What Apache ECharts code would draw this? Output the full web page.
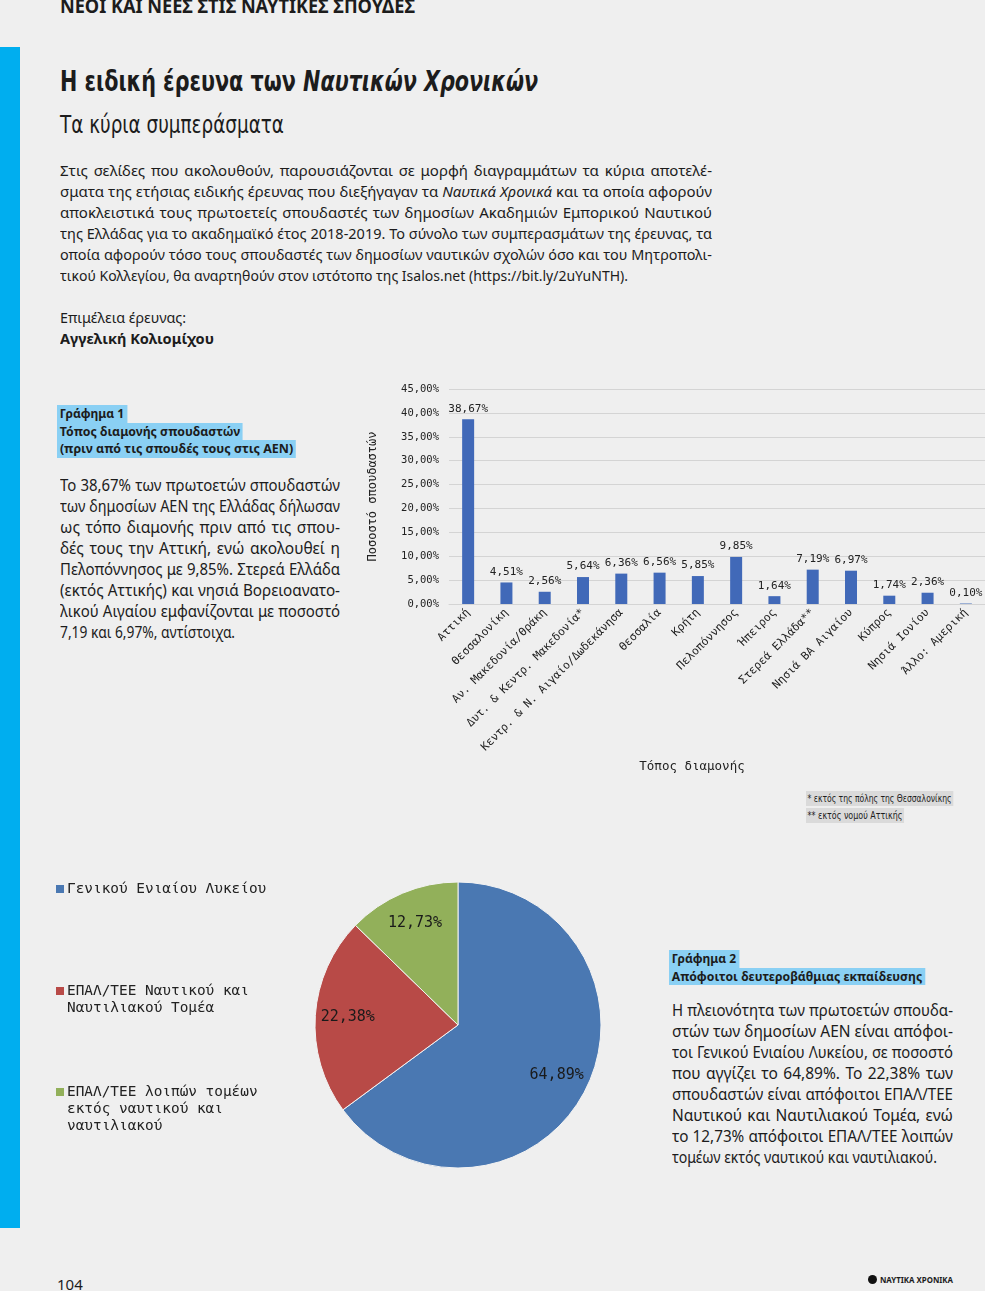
<!DOCTYPE html>
<html><head><meta charset="utf-8">
<script src="https://cdn.jsdelivr.net/npm/echarts@6/dist/echarts.min.js"></script>
<style>
html,body{margin:0;padding:0;background:#efefef;}
#page{position:relative;width:985px;height:1291px;overflow:hidden;background:#efefef;font-family:"Noto Sans",sans-serif;color:#1c1c1c;}
.abs{position:absolute;white-space:nowrap;}
.cond{font-family:"DejaVu Sans Condensed","DejaVu Sans",sans-serif;font-stretch:condensed;}
.para{position:absolute;font-size:15px;line-height:21px;}
.para div{height:21px;}
.hl{position:absolute;font-size:13px;font-weight:700;}
.hl div{height:17.5px;line-height:17.5px;margin-left:-3px;}
.hl span{display:inline-block;background:#8ad0f4;padding:0 3px 0 3px;}
#chart{position:absolute;left:0;top:0;width:985px;height:1291px;}
.fn{position:absolute;font-size:11px;line-height:15px;background:#dadada;padding:0 2px;white-space:nowrap;}
</style></head>
<body><div id="page">
<div style="position:absolute;left:0;top:47px;width:20px;height:1181px;background:#00aeef;"></div>

<div class="abs fit" data-w="355" style="left:60px;top:-3px;font-size:19px;line-height:19px;font-weight:700;">ΝΕΟΙ ΚΑΙ ΝΕΕΣ ΣΤΙΣ ΝΑΥΤΙΚΕΣ ΣΠΟΥΔΕΣ</div>
<div class="abs fit cond" data-w="478" style="left:60px;top:68px;font-size:28px;line-height:28px;font-weight:700;">Η ειδική έρευνα των <i>Ναυτικών Χρονικών</i></div>
<div class="abs fit cond" data-w="224" style="left:60px;top:112px;font-size:25px;line-height:25px;">Τα κύρια συμπεράσματα</div>

<div class="para" style="left:60px;top:160px;">
<div class="fit" data-w="652" data-j="1">Στις σελίδες που ακολουθούν, παρουσιάζονται σε μορφή διαγραμμάτων τα κύρια αποτελέ-</div>
<div class="fit" data-w="652" data-j="1">σματα της ετήσιας ειδικής έρευνας που διεξήγαγαν τα <i>Ναυτικά Χρονικά</i> και τα οποία αφορούν</div>
<div class="fit" data-w="652" data-j="1">αποκλειστικά τους πρωτοετείς σπουδαστές των δημοσίων Ακαδημιών Εμπορικού Ναυτικού</div>
<div class="fit" data-w="652" data-j="1">της Ελλάδας για το ακαδημαϊκό έτος 2018-2019. Το σύνολο των συμπερασμάτων της έρευνας, τα</div>
<div class="fit" data-w="652" data-j="1">οποία αφορούν τόσο τους σπουδαστές των δημοσίων ναυτικών σχολών όσο και του Μητροπολι-</div>
<div class="fit" data-w="568">τικού Κολλεγίου, θα αναρτηθούν στον ιστότοπο της Isalos.net (https://bit.ly/2uYuNTH).</div>
</div>
<div class="abs fit" data-w="126" style="left:60px;top:307px;font-size:15px;line-height:21px;">Επιμέλεια έρευνας:</div>
<div class="abs fit" data-w="154" style="left:60px;top:328px;font-size:15px;line-height:21px;font-weight:700;">Αγγελική Κολιομίχου</div>

<div class="hl" style="left:60px;top:405px;">
<div><span class="fit" data-w="70">Γράφημα 1</span></div>
<div><span class="fit" data-w="186">Τόπος διαμονής σπουδαστών</span></div>
<div><span class="fit" data-w="239">(πριν από τις σπουδές τους στις ΑΕΝ)</span></div>
</div>
<div class="para" style="left:60px;top:475px;font-size:15.5px;">
<div class="fit" data-w="280" data-j="1">Το 38,67% των πρωτοετών σπουδαστών</div>
<div class="fit" data-w="280" data-j="1">των δημοσίων ΑΕΝ της Ελλάδας δήλωσαν</div>
<div class="fit" data-w="280" data-j="1">ως τόπο διαμονής πριν από τις σπου-</div>
<div class="fit" data-w="280" data-j="1">δές τους την Αττική, ενώ ακολουθεί η</div>
<div class="fit" data-w="280" data-j="1">Πελοπόννησος με 9,85%. Στερεά Ελλάδα</div>
<div class="fit" data-w="280" data-j="1">(εκτός Αττικής) και νησιά Βορειοανατο-</div>
<div class="fit" data-w="280" data-j="1">λικού Αιγαίου εμφανίζονται με ποσοστό</div>
<div class="fit" data-w="175">7,19 και 6,97%, αντίστοιχα.</div>
</div>

<div class="fn cond fit" data-w="147" style="left:806px;top:791px;">* εκτός της πόλης της Θεσσαλονίκης</div>
<div class="fn cond fit" data-w="98" style="left:806px;top:808px;">** εκτός νομού Αττικής</div>

<div class="hl" style="left:672px;top:950px;">
<div><span class="fit" data-w="70">Γράφημα 2</span></div>
<div><span class="fit" data-w="256">Απόφοιτοι δευτεροβάθμιας εκπαίδευσης</span></div>
</div>
<div class="para" style="left:672px;top:1000px;font-size:15.5px;">
<div class="fit" data-w="281" data-j="1">Η πλειονότητα των πρωτοετών σπουδα-</div>
<div class="fit" data-w="281" data-j="1">στών των δημοσίων ΑΕΝ είναι απόφοι-</div>
<div class="fit" data-w="281" data-j="1">τοι Γενικού Ενιαίου Λυκείου, σε ποσοστό</div>
<div class="fit" data-w="281" data-j="1">που αγγίζει το 64,89%. Το 22,38% των</div>
<div class="fit" data-w="281" data-j="1">σπουδαστών είναι απόφοιτοι ΕΠΑΛ/ΤΕΕ</div>
<div class="fit" data-w="281" data-j="1">Ναυτικού και Ναυτιλιακού Τομέα, ενώ</div>
<div class="fit" data-w="281" data-j="1">το 12,73% απόφοιτοι ΕΠΑΛ/ΤΕΕ λοιπών</div>
<div class="fit" data-w="265">τομέων εκτός ναυτικού και ναυτιλιακού.</div>
</div>

<div class="abs" style="left:57px;top:1277px;font-size:15px;line-height:15px;">104</div>
<div style="position:absolute;left:868px;top:1275px;width:9px;height:9px;border-radius:50%;background:#111;"></div>
<div class="abs fit" data-w="73" style="left:880px;top:1274px;font-size:8px;line-height:11px;font-weight:700;">ΝΑΥΤΙΚΑ ΧΡΟΝΙΚΑ</div>

<div id="chart"></div>
</div>
<script>
// ---- data ----
const regions = ['Αττική','Θεσσαλονίκη','Αν. Μακεδονία/Θράκη','Δυτ. & Κεντρ. Μακεδονία*','Κεντρ. & Ν. Αιγαίο/Δωδεκάνησα','Θεσσαλία','Κρήτη','Πελοπόννησος','Ήπειρος','Στερεά Ελλάδα**','Νησιά ΒΑ Αιγαίου','Κύπρος','Νησιά Ιονίου','Άλλο: Αμερική'];
const residencePct = [38.67,4.51,2.56,5.64,6.36,6.56,5.85,9.85,1.64,7.19,6.97,1.74,2.36,0.10];
const yMax = 45;
const yStep = 5;
const barAxisTitleY = 'Ποσοστό σπουδαστών';
const barAxisTitleX = 'Τόπος διαμονής';
const schoolTypes = ['Γενικού Ενιαίου Λυκείου','ΕΠΑΛ/ΤΕΕ Ναυτικού και Ναυτιλιακού Τομέα','ΕΠΑΛ/ΤΕΕ λοιπών τομέων εκτός ναυτικού και ναυτιλιακού'];
const schoolLegendLines = [['Γενικού Ενιαίου Λυκείου'],['ΕΠΑΛ/ΤΕΕ Ναυτικού και','Ναυτιλιακού Τομέα'],['ΕΠΑΛ/ΤΕΕ λοιπών τομέων','εκτός ναυτικού και','ναυτιλιακού']];
const schoolPct = [64.89,22.38,12.73];
const pieColors = ['#4a78b2','#b84a47','#92b05a'];

// ---- fit text lines ----
document.querySelectorAll('.fit').forEach(el=>{
  const w = +el.dataset.w, j = el.dataset.j === '1';
  el.style.display='inline-block'; el.style.whiteSpace='nowrap'; el.style.width='auto';
  const nat = el.getBoundingClientRect().width;
  el.style.transformOrigin='0 0';
  if (j) {
    el.style.display='block';
    el.style.whiteSpace='normal';
    el.style.textAlign='justify'; el.style.textAlignLast='justify';
    if (nat > w) { el.style.width=(nat+1)+'px'; el.style.transform='scaleX('+(w/(nat+1))+')'; }
    else el.style.width=w+'px';
  } else {
    el.style.transform='scaleX('+(w/nat)+')';
  }
});

const fmt = v => v.toFixed(2).replace('.', ',') + '%';
const mono = '"DejaVu Sans Mono", monospace';
const chart = echarts.init(document.getElementById('chart'));
const legendTops = [889, 991, 1092];
const graphics = [
  {type:'text', x:692, y:767, style:{text:barAxisTitleX, font:'12.5px '+mono, fill:'#222', align:'center', verticalAlign:'middle'}},
];
schoolLegendLines.forEach((lines,i)=>{
  graphics.push({type:'rect', shape:{x:56, y:legendTops[i]-4, width:8, height:8}, style:{fill:pieColors[i]}});
  graphics.push({type:'text', x:67, y:legendTops[i]-8.5, style:{text:lines.join('\n'), font:'14.4px '+mono, lineHeight:17, fill:'#222'}});
});
chart.setOption({
  animation:false,
  graphic: graphics,
  grid:{left:449, top:389, width:536, height:215, containLabel:false},
  xAxis:{type:'category', data:regions,
    axisLine:{show:true, lineStyle:{color:'#d4d4d4'}}, axisTick:{show:false},
    axisLabel:{interval:0, rotate:45, margin:7, fontFamily:mono, fontSize:11.2, color:'#222'}},
  yAxis:{type:'value', min:0, max:yMax, interval:yStep,
    name:barAxisTitleY, nameLocation:'middle', nameGap:70,
    nameTextStyle:{fontFamily:mono, fontSize:12, color:'#222'},
    axisLabel:{formatter:v=>fmt(v), fontFamily:mono, fontSize:10.5, color:'#222', margin:10},
    axisLine:{show:false}, axisTick:{show:false},
    splitLine:{lineStyle:{color:'#d4d4d4'}}},
  series:[
    {type:'bar', data:residencePct, barWidth:12, itemStyle:{color:'#4169b8'},
     label:{show:true, position:'top', distance:5, formatter:p=>fmt(p.value), fontFamily:mono, fontSize:11, color:'#222'}},
    {type:'pie', center:[458,1025], radius:143, startAngle:90, clockwise:true,
     data:schoolTypes.map((n,i)=>({name:n, value:schoolPct[i], itemStyle:{color:pieColors[i]}})),
     itemStyle:{borderColor:'#f2f2f2', borderWidth:1},
     label:{show:false}, labelLine:{show:false}, silent:true},
    {type:'pie', center:[458,1025], radius:[72,143], startAngle:90, clockwise:true,
     data:schoolTypes.map((n,i)=>({name:n, value:schoolPct[i]})),
     itemStyle:{color:'rgba(0,0,0,0)'}, silent:true,
     label:{show:true, position:'inside', formatter:p=>fmt(p.value), fontFamily:mono, fontSize:15, color:'#1a1a1a'},
     labelLine:{show:false}}
  ]
});
</script>
</body></html>
